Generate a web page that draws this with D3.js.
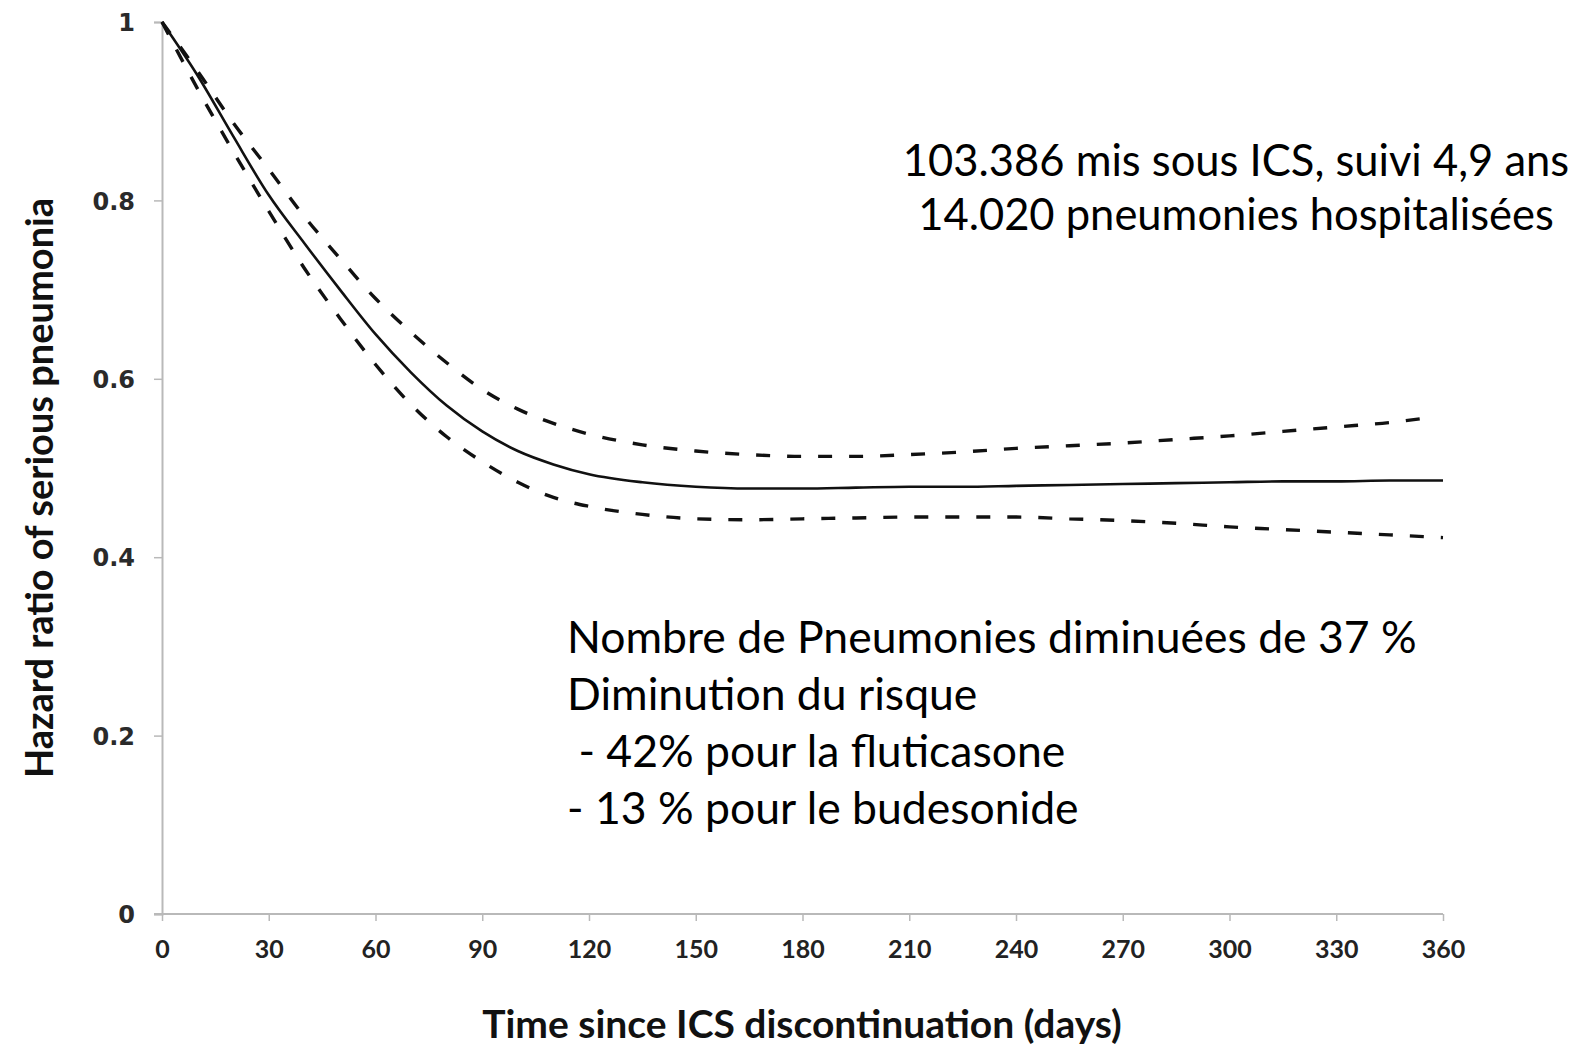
<!DOCTYPE html>
<html>
<head>
<meta charset="utf-8">
<script src="https://cdn.jsdelivr.net/npm/d3@7"></script>
<style>
  html, body { margin: 0; padding: 0; background: #fff; }
  svg { display: block; }
</style>
</head>
<body>
<svg id="chart" width="1580" height="1046"></svg>
<script>
// ---- data ----
const days = [0, 10, 20, 30, 40, 50, 60, 70, 80, 90, 100, 110, 120, 135, 150, 165, 180, 195, 210, 225, 240, 255, 270, 285, 300, 315, 330, 345, 360];
const hazardRatio = [1.0, 0.94, 0.872, 0.806, 0.752, 0.70, 0.650, 0.607, 0.570, 0.541, 0.519, 0.504, 0.493, 0.484, 0.479, 0.477, 0.477, 0.478, 0.479, 0.479, 0.480, 0.481, 0.482, 0.483, 0.484, 0.485, 0.485, 0.486, 0.486];
const upperCI = [1.0, 0.945, 0.887, 0.835, 0.782, 0.735, 0.690, 0.652, 0.618, 0.588, 0.566, 0.550, 0.538, 0.526, 0.519, 0.515, 0.513, 0.513, 0.515, 0.518, 0.522, 0.525, 0.528, 0.532, 0.536, 0.541, 0.546, 0.551, 0.557];
const lowerCI = [1.0, 0.925, 0.855, 0.788, 0.724, 0.668, 0.616, 0.571, 0.535, 0.507, 0.484, 0.467, 0.457, 0.448, 0.443, 0.442, 0.443, 0.444, 0.445, 0.445, 0.445, 0.443, 0.441, 0.438, 0.434, 0.431, 0.428, 0.425, 0.422];
const upperDays = days.slice(0, days.length - 1).concat([357]);

const xTicks = [0, 30, 60, 90, 120, 150, 180, 210, 240, 270, 300, 330, 360];
const yTicks = [0, 0.2, 0.4, 0.6, 0.8, 1];
const yTickLabels = ["0", "0.2", "0.4", "0.6", "0.8", "1"];

const xTitle = "Time since ICS discontinuation (days)";
const yTitle = "Hazard ratio of serious pneumonia";
const noteTop = ["103.386 mis sous ICS, suivi 4,9 ans", "14.020 pneumonies hospitalisées"];
const noteBottom = ["Nombre de Pneumonies diminuées de 37 %", "Diminution du risque", " - 42% pour la fluticasone", "- 13 % pour le budesonide"];

// ---- drawing ----
const svg = d3.select("#chart");
const x = d3.scaleLinear().domain([0, 360]).range([162, 1443]);
const y = d3.scaleLinear().domain([0, 1]).range([914, 22]);

const axisColor = "#b9b9b9";

// y axis
const yAxis = svg.append("g").attr("transform", `translate(${x(0)},0)`)
  .call(d3.axisLeft(y).tickValues(yTicks).tickSize(8).tickFormat((d, i) => yTickLabels[i]));
yAxis.select(".domain").attr("stroke", axisColor).attr("stroke-width", 2);
yAxis.selectAll(".tick line").attr("stroke", axisColor).attr("stroke-width", 1.5);
yAxis.selectAll(".tick text")
  .attr("x", -27)
  .attr("dy", "0.36em")
  .attr("font-family", "DejaVu Sans")
  .attr("font-weight", "bold")
  .attr("font-size", 24)
  .attr("fill", "#2a2a2a");

// x axis
const xAxis = svg.append("g").attr("transform", `translate(0,${y(0)})`)
  .call(d3.axisBottom(x).tickValues(xTicks).tickSize(7).tickSizeOuter(0).tickFormat(d3.format("d")));
xAxis.select(".domain").attr("stroke", axisColor).attr("stroke-width", 2)
  .attr("d", `M${x(0) - 8},0H${x(360)}`);
xAxis.selectAll(".tick line").attr("stroke", axisColor).attr("stroke-width", 1.5);
xAxis.selectAll(".tick text")
  .attr("y", 35)
  .attr("dy", "0.36em")
  .attr("font-family", "Lato")
  .attr("font-weight", "bold")
  .attr("font-size", 25)
  .attr("fill", "#222");

// lines
const mk = (xs, ys) => xs.map((d, i) => [d, ys[i]]);
const line = d3.line().x(d => x(d[0])).y(d => y(d[1])).curve(d3.curveMonotoneX);

svg.append("path").datum(mk(upperDays, upperCI))
  .attr("d", line).attr("fill", "none").attr("stroke", "#111")
  .attr("stroke-width", 3.4).attr("stroke-dasharray", "14,17");
svg.append("path").datum(mk(days, lowerCI))
  .attr("d", line).attr("fill", "none").attr("stroke", "#111")
  .attr("stroke-width", 3.4).attr("stroke-dasharray", "14,17");
svg.append("path").datum(mk(days, hazardRatio))
  .attr("d", line).attr("fill", "none").attr("stroke", "#111")
  .attr("stroke-width", 2.6);

// axis titles
svg.append("text")
  .attr("x", 802).attr("y", 1038)
  .attr("text-anchor", "middle")
  .attr("font-family", "Lato").attr("font-weight", "bold").attr("font-size", 39)
  .attr("fill", "#111")
  .text(xTitle);

svg.append("text")
  .attr("transform", "translate(53,488) rotate(-90)")
  .attr("text-anchor", "middle")
  .attr("font-family", "Lato").attr("font-weight", "bold").attr("font-size", 38)
  .attr("fill", "#111")
  .text(yTitle);

// annotations
svg.append("g").selectAll("text").data(noteTop).join("text")
  .attr("x", 1236).attr("y", (d, i) => 176 + i * 54)
  .attr("text-anchor", "middle")
  .attr("font-family", "Lato").attr("font-size", 43.5).attr("fill", "#000")
  .text(d => d);

svg.append("g").selectAll("text").data(noteBottom).join("text")
  .attr("x", 567).attr("y", (d, i) => 653 + i * 57)
  .attr("font-family", "Lato").attr("font-size", 44.5).attr("fill", "#000")
  .style("white-space", "pre")
  .text(d => d);
</script>
</body>
</html>
